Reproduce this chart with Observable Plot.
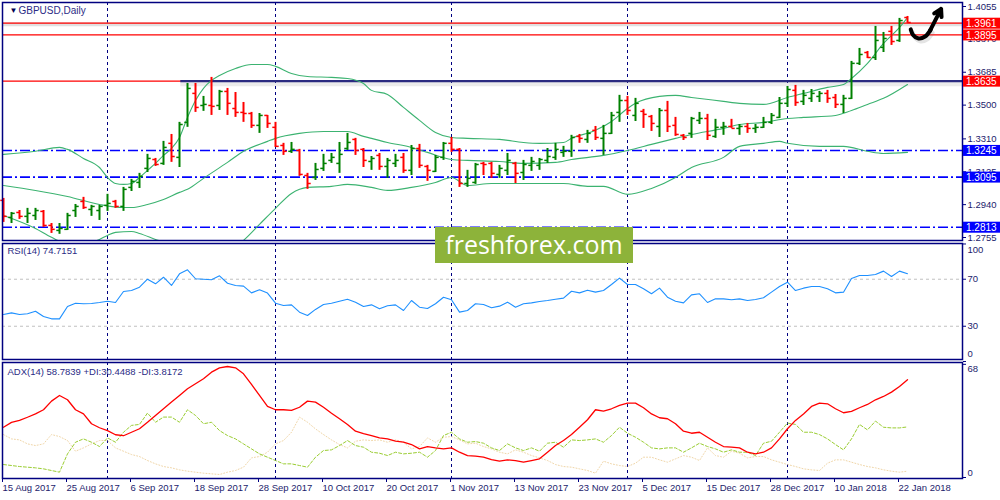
<!DOCTYPE html>
<html><head><meta charset="utf-8">
<script src="https://cdn.jsdelivr.net/npm/d3@7"></script>
<script src="https://cdn.jsdelivr.net/npm/@observablehq/plot@0.6"></script>
<style>
body{margin:0;background:#fff;}
#wrap{position:relative;width:1000px;height:500px;overflow:hidden;background:#fff;}
#wrap svg{position:absolute;left:0;}
#wm{position:absolute;left:435px;top:227px;width:198px;height:36px;background:#8db33a;color:#fff;font-family:"Open Sans",sans-serif;font-size:25px;line-height:34px;text-align:center;z-index:5;}
</style></head><body><div id="wrap"><div id="wm">freshforex.com</div></div>
<script>
// ---------- data ----------
const symbolTitle = "GBPUSD,Daily";
const rsiTitle = "RSI(14) 74.7151";
const adxTitle = "ADX(14) 58.7839 +DI:30.4488 -DI:3.8172";
const dateLabels = ["15 Aug 2017","25 Aug 2017","6 Sep 2017","18 Sep 2017","28 Sep 2017","10 Oct 2017","20 Oct 2017","1 Nov 2017","13 Nov 2017","23 Nov 2017","5 Dec 2017","15 Dec 2017","28 Dec 2017","10 Jan 2018","22 Jan 2018"];
const dateLabelBars = [0,8,16,24,32,40,48,56,64,72,80,88,96,104,112];
const monthStartBars = [13,34,56,78,98];
const priceTicks = [1.4055,1.3870,1.3685,1.3500,1.3310,1.3125,1.2940,1.2755];

const open = [1.2964,1.2868,1.2896,1.2874,1.2879,1.2902,1.2823,1.2795,1.2801,1.2907,1.2958,1.2913,1.2907,1.2936,1.2958,1.2930,1.3037,1.3065,1.3144,1.3194,1.3172,1.3285,1.3206,1.3403,1.3566,1.3498,1.3498,1.3498,1.3577,1.3481,1.3459,1.3453,1.3386,1.3442,1.3375,1.3273,1.3240,1.3245,1.3104,1.3093,1.3144,1.3189,1.3172,1.3256,1.3307,1.3251,1.3183,1.3217,1.3155,1.3172,1.3206,1.3133,1.3256,1.3155,1.3127,1.3206,1.3285,1.3251,1.3059,1.3065,1.3172,1.3172,1.3110,1.3133,1.3172,1.3121,1.3161,1.3161,1.3189,1.3206,1.3234,1.3240,1.3324,1.3307,1.3358,1.3313,1.3341,1.3459,1.3526,1.3442,1.3465,1.3436,1.3380,1.3470,1.3386,1.3330,1.3341,1.3414,1.3425,1.3324,1.3375,1.3380,1.3369,1.3380,1.3369,1.3375,1.3403,1.3431,1.3510,1.3583,1.3521,1.3538,1.3549,1.3566,1.3543,1.3504,1.3538,1.3735,1.3796,1.3768,1.3825,1.3915,1.3864,1.3993];
const high = [1.2975,1.2896,1.2907,1.2919,1.2919,1.2907,1.2834,1.2834,1.2891,1.2941,1.2981,1.2936,1.2936,1.2998,1.2964,1.3037,1.3082,1.3116,1.3223,1.3200,1.3296,1.3335,1.3403,1.3622,1.3622,1.3549,1.3656,1.3583,1.3594,1.3571,1.3515,1.3459,1.3453,1.3442,1.3403,1.3285,1.3290,1.3251,1.3116,1.3172,1.3223,1.3228,1.3290,1.3341,1.3313,1.3256,1.3211,1.3228,1.3200,1.3223,1.3228,1.3273,1.3279,1.3161,1.3217,1.3290,1.3318,1.3256,1.3133,1.3172,1.3178,1.3178,1.3161,1.3228,1.3178,1.3189,1.3206,1.3200,1.3256,1.3285,1.3268,1.3330,1.3335,1.3358,1.3380,1.3386,1.3459,1.3555,1.3549,1.3538,1.3476,1.3442,1.3481,1.3521,1.3431,1.3335,1.3431,1.3459,1.3448,1.3420,1.3403,1.3420,1.3391,1.3397,1.3391,1.3431,1.3453,1.3543,1.3605,1.3611,1.3583,1.3588,1.3577,1.3583,1.3560,1.3555,1.3746,1.3819,1.3802,1.3943,1.3909,1.3943,1.3988,1.3999];
const low = [1.2840,1.2834,1.2857,1.2834,1.2851,1.2812,1.2778,1.2773,1.2795,1.2868,1.2913,1.2874,1.2851,1.2902,1.2919,1.2902,1.3014,1.3031,1.3121,1.3155,1.3161,1.3178,1.3149,1.3375,1.3459,1.3465,1.3442,1.3470,1.3442,1.3431,1.3403,1.3369,1.3341,1.3369,1.3262,1.3217,1.3228,1.3099,1.3026,1.3076,1.3127,1.3172,1.3116,1.3245,1.3217,1.3149,1.3133,1.3133,1.3088,1.3149,1.3116,1.3104,1.3144,1.3071,1.3121,1.3189,1.3234,1.3037,1.3037,1.3054,1.3104,1.3088,1.3088,1.3104,1.3059,1.3076,1.3127,1.3133,1.3172,1.3189,1.3206,1.3206,1.3285,1.3285,1.3301,1.3217,1.3335,1.3403,1.3442,1.3408,1.3369,1.3352,1.3318,1.3346,1.3324,1.3301,1.3313,1.3391,1.3301,1.3313,1.3330,1.3369,1.3330,1.3341,1.3341,1.3369,1.3391,1.3425,1.3487,1.3493,1.3498,1.3515,1.3515,1.3510,1.3481,1.3453,1.3532,1.3723,1.3762,1.3751,1.3796,1.3836,1.3853,1.3960];
const close = [1.2874,1.2891,1.2874,1.2891,1.2907,1.2823,1.2801,1.2806,1.2879,1.2930,1.2924,1.2930,1.2930,1.2947,1.2930,1.3026,1.3071,1.3099,1.3200,1.3166,1.3262,1.3211,1.3391,1.3594,1.3487,1.3504,1.3493,1.3577,1.3510,1.3459,1.3453,1.3386,1.3442,1.3397,1.3268,1.3240,1.3251,1.3110,1.3059,1.3138,1.3172,1.3206,1.3223,1.3290,1.3245,1.3189,1.3200,1.3155,1.3189,1.3189,1.3133,1.3256,1.3161,1.3133,1.3206,1.3285,1.3251,1.3059,1.3088,1.3166,1.3166,1.3116,1.3144,1.3189,1.3116,1.3166,1.3183,1.3194,1.3211,1.3251,1.3240,1.3318,1.3313,1.3341,1.3318,1.3341,1.3442,1.3526,1.3470,1.3510,1.3448,1.3397,1.3470,1.3380,1.3335,1.3318,1.3425,1.3425,1.3330,1.3375,1.3380,1.3369,1.3380,1.3369,1.3375,1.3403,1.3442,1.3510,1.3588,1.3515,1.3555,1.3566,1.3566,1.3538,1.3504,1.3538,1.3735,1.3785,1.3768,1.3864,1.3875,1.3858,1.3976,1.3965];

const bbUpperBars = [0,4,7,8,10,12,13,14,15,16,17,18,19,20,21,22,23,24,25,26,27,29,31,33,34,36,38,41,43,45,46,48,50,52,54,56,58,62,65,67,70,71,74,76,78,79,82,84,86,90,92,95,98,100,103,105,106,108,110,112,113];
const bbUpper = [1.3223,1.3240,1.3262,1.3251,1.3200,1.3149,1.3093,1.3059,1.3054,1.3059,1.3093,1.3133,1.3172,1.3217,1.3256,1.3318,1.3431,1.3526,1.3594,1.3639,1.3667,1.3706,1.3729,1.3729,1.3718,1.3678,1.3661,1.3656,1.3650,1.3622,1.3583,1.3560,1.3487,1.3414,1.3346,1.3318,1.3313,1.3307,1.3290,1.3285,1.3290,1.3313,1.3358,1.3408,1.3481,1.3510,1.3549,1.3555,1.3543,1.3521,1.3510,1.3504,1.3543,1.3566,1.3600,1.3616,1.3650,1.3735,1.3847,1.3937,1.3993];
const bbMiddleBars = [0,4,8,12,15,16,18,20,22,23,25,28,30,33,34,37,40,43,45,46,48,51,53,56,58,62,65,69,71,75,78,81,84,86,90,92,95,98,100,104,106,108,110,113];
const bbMiddle = [1.3048,1.3020,1.2986,1.2941,1.2924,1.2924,1.2941,1.2969,1.3009,1.3026,1.3088,1.3178,1.3240,1.3296,1.3313,1.3341,1.3352,1.3352,1.3324,1.3313,1.3290,1.3262,1.3234,1.3194,1.3189,1.3183,1.3172,1.3178,1.3194,1.3217,1.3245,1.3279,1.3313,1.3335,1.3369,1.3391,1.3403,1.3425,1.3431,1.3442,1.3470,1.3504,1.3538,1.3616];
const bbLowerBars = [0,4,6,8,10,12,13,14,16,17,19,22,25,27,29,30,32,34,36,38,41,43,46,48,51,54,56,58,61,65,70,73,75,78,81,84,86,90,92,95,97,98,102,105,108,110,113];
const bbLower = [1.2879,1.2806,1.2756,1.2722,1.2722,1.2744,1.2767,1.2784,1.2789,1.2778,1.2744,1.2699,1.2581,1.2632,1.2705,1.2739,1.2829,1.2919,1.3003,1.3037,1.3043,1.3054,1.3037,1.3020,1.3037,1.3065,1.3093,1.3048,1.3059,1.3059,1.3059,1.3043,1.3043,1.2998,1.3031,1.3093,1.3149,1.3206,1.3268,1.3285,1.3296,1.3285,1.3268,1.3268,1.3240,1.3228,1.3234];

const resistanceLevels = [1.3961,1.3895,1.3635];
const supportLevels = [1.3245,1.3095,1.2813];
const trendLevel = 1.3635;
const trendStartBar = 22.1;

const rsi = [40.0,41.4,40.0,40.6,42.8,38.3,36.3,36.3,46.8,49.6,49.1,49.4,50.2,51.3,50.2,59.6,60.4,63.2,70.0,66.1,71.7,64.7,74.6,78.0,70.4,70.0,69.5,72.9,66.6,64.7,64.1,58.4,61.0,58.2,49.6,47.7,48.2,42.0,39.1,44.3,48.5,49.6,51.3,53.0,50.5,46.8,48.2,44.8,47.4,48.2,43.4,51.9,46.2,45.1,49.1,54.7,52.5,42.0,43.4,49.1,48.5,45.7,47.1,50.5,46.2,49.1,49.9,51.1,51.9,53.0,53.9,59.8,58.4,60.7,59.0,60.4,65.5,70.9,65.5,65.5,61.9,57.6,62.4,54.7,51.3,49.9,56.7,57.6,50.2,53.3,53.3,52.5,53.3,51.9,52.8,54.2,59.0,63.8,67.5,60.4,62.4,63.8,63.8,61.9,58.4,59.0,70.6,73.2,73.2,74.0,76.9,72.3,76.9,74.7];
const rsiLevels = [70,30];
const rsiTicks = [100,70,30,0];

const adx = [30.2,33.1,34.3,36.2,38.2,40.7,45.9,49.3,46.7,40.7,38.2,32.3,29.9,28.2,25.7,25.1,27.2,29.3,33.2,37.3,41.3,45.3,49.3,53.3,56.3,59.3,63.3,65.9,66.7,65.9,62.3,55.9,49.3,42.7,40.7,40.7,40.3,42.2,45.9,45.3,42.2,38.6,35.3,31.9,27.8,26.3,25.2,23.8,23.2,21.8,21.2,19.8,17.2,18.6,17.8,17.2,17.8,15.2,13.2,12.8,12.2,10.8,9.8,10.6,10.2,9.2,10.2,11.2,15.2,19.2,22.2,25.8,30.2,34.7,40.7,39.9,41.3,43.3,44.7,44.7,41.9,38.2,35.9,35.3,32.3,27.8,26.6,27.2,24.2,21.2,18.6,18.2,17.8,15.2,14.2,15.2,17.8,23.2,29.3,34.3,38.2,42.7,44.7,44.3,41.3,38.9,39.7,41.9,43.9,46.7,48.7,51.3,54.7,58.8];
const plusDI = [7.8,7.2,6.6,6.2,5.8,5.2,4.2,3.2,14.2,21.2,23.2,21.2,18.6,23.8,21.2,27.2,31.3,31.9,38.7,33.2,36.3,36.3,33.2,40.7,37.3,32.3,33.2,28.2,25.2,23.2,20.2,17.2,14.2,12.2,10.2,8.2,8.2,7.2,6.2,12.2,16.2,16.6,19.2,22.2,19.2,18.2,15.2,14.6,13.2,15.2,14.2,14.6,15.2,12.2,16.2,25.2,27.2,23.2,21.2,21.6,20.6,17.8,16.2,20.2,17.8,16.2,17.8,15.8,20.6,21.2,18.2,22.6,22.2,22.6,23.2,21.2,25.2,30.2,26.6,24.2,21.2,17.8,17.2,17.8,17.8,15.2,17.8,20.6,18.6,17.2,15.2,16.6,15.2,15.2,13.2,20.6,21.8,27.2,32.7,31.9,27.2,27.2,25.8,23.2,19.8,16.6,23.2,31.9,28.6,33.9,30.2,29.8,29.8,30.4];
const minusDI = [25.8,23.2,22.6,20.2,19.2,20.2,25.8,24.6,22.2,15.8,17.8,20.2,22.2,22.2,17.8,15.8,13.8,12.6,10.2,8.2,6.6,5.8,4.6,3.8,3.2,2.6,2.2,1.8,3.2,4.2,6.2,11.8,12.6,15.2,20.2,22.2,27.2,36.3,33.2,29.2,25.8,22.6,19.8,17.8,21.8,22.6,22.2,22.6,21.2,22.6,21.2,17.2,18.6,23.8,21.2,24.2,24.6,22.6,20.2,20.6,18.6,17.2,15.2,14.2,16.6,15.2,13.2,11.8,10.2,7.8,6.6,6.2,5.2,4.2,2.6,9.8,8.2,7.2,6.6,8.6,12.2,12.2,10.6,9.2,11.2,13.2,12.2,10.2,17.8,13.2,12.2,15.8,14.6,11.8,12.6,12.6,10.6,9.2,7.8,6.6,5.2,4.6,4.2,8.6,10.6,10.6,9.2,7.8,6.6,5.8,4.6,3.8,3.2,3.8];
const adxTicks = [68,0];

// hand-drawn arrow annotation (bar index, price)
const arrowHook = [[113.4,1.3926],[113.7,1.3895],[114.3,1.3876],[115.2,1.3886],[115.9,1.3925]];
const arrowHead = [[115.8,1.3918],[117.2,1.4042]];

// ---------- styling ----------
const NAVY = "#000080", UP = "#008000", DOWN = "#ff0000", BAND = "#3cb371";
const AXIS_TEXT = "#1c1c6c";
const FONT = "'Liberation Sans', Arial, sans-serif";
const xDomain = [-0.125, 119.875];
const W = 1000, ML = 2, MR = 38;
const base = {width: W, marginLeft: ML, marginRight: MR, style: {fontFamily: FONT, fontSize: "9.5px", background: "transparent", overflow: "visible"}};

const bars = open.map((o, i) => ({i, open: o, high: high[i], low: low[i], close: close[i], col: close[i] >= o ? UP : DOWN}));
const zipXY = (xs, ys) => xs.map((x, k) => ({x, y: ys[k]}));
const idx = arr => arr.map((v, i) => ({i, v}));

// ---------- main price panel ----------
const main = Plot.plot({
  ...base, height: 241, marginTop: 2, marginBottom: 1,
  x: {domain: xDomain, axis: null},
  y: {domain: [1.27382, 1.40775]},
  color: {type: "identity"},
  marks: [
    Plot.ruleX(monthStartBars, {x: d => d, stroke: NAVY, strokeDasharray: "3,3", strokeWidth: 1}),
    Plot.ruleY([resistanceLevels[0]], {y: d => d, stroke: "#cccccc", strokeWidth: 4, strokeOpacity: 0.6, dy: 1}),
    Plot.ruleY(resistanceLevels, {y: d => d, stroke: DOWN, strokeWidth: 1.2}),
    Plot.ruleY(supportLevels, {y: d => d, stroke: "#0000ff", strokeWidth: 1.6, strokeDasharray: "10,3,2,3"}),
    Plot.link([trendLevel], {x1: trendStartBar, x2: xDomain[1], y1: d => d, y2: d => d, stroke: "#999", strokeOpacity: 0.2, strokeWidth: 6, dy: 2}),
    Plot.link([trendLevel], {x1: trendStartBar, x2: xDomain[1], y1: d => d, y2: d => d, stroke: "#2a2a80", strokeWidth: 2.2}),
    Plot.line(zipXY(bbUpperBars, bbUpper), {x: "x", y: "y", stroke: BAND, strokeWidth: 1.1, curve: "monotone-x", clip: true}),
    Plot.line(zipXY(bbMiddleBars, bbMiddle), {x: "x", y: "y", stroke: BAND, strokeWidth: 1.1, curve: "monotone-x", clip: true}),
    Plot.line(zipXY(bbLowerBars, bbLower), {x: "x", y: "y", stroke: BAND, strokeWidth: 1.1, curve: "monotone-x", clip: true}),
    Plot.ruleX(bars, {x: "i", y1: "low", y2: "high", stroke: "col", strokeWidth: 2}),
    Plot.link(bars, {x1: d => d.i - 0.4, x2: "i", y1: "open", y2: "open", stroke: "col", strokeWidth: 1.5}),
    Plot.link(bars, {x1: "i", x2: d => d.i + 0.4, y1: "close", y2: "close", stroke: "col", strokeWidth: 1.5}),
    Plot.line(arrowHook, {x: d => d[0], y: d => d[1], stroke: "#777", strokeOpacity: 0.2, strokeWidth: 4, curve: "catmull-rom", dx: 2, dy: 3}),
    Plot.line(arrowHook, {x: d => d[0], y: d => d[1], stroke: "#000", strokeWidth: 4, curve: "catmull-rom", strokeLinecap: "round"}),
    Plot.arrow([arrowHead], {x1: d => d[0][0], y1: d => d[0][1], x2: d => d[1][0], y2: d => d[1][1], stroke: "#000", strokeWidth: 4, headLength: 11}),
    Plot.frame({stroke: NAVY, strokeWidth: 1.5}),
    Plot.axisY({anchor: "right", ticks: priceTicks, tickFormat: d => d.toFixed(4), tickSize: 3, tickPadding: 2, stroke: NAVY, fill: AXIS_TEXT, label: null}),
    Plot.text(["▼"], {frameAnchor: "top-left", dx: 7, dy: 5, textAnchor: "start", lineAnchor: "top", fill: "#000050", fontSize: 8}),
    Plot.text([symbolTitle], {frameAnchor: "top-left", dx: 16, dy: 4, textAnchor: "start", lineAnchor: "top", fill: "#2b2b85", fontSize: 10})
  ]
});
main.style.top = "0px";
// level price boxes in the right margin, placed through the plot's y scale
{
  const ys = main.scale("y");
  const g = d3.select(main).append("g").attr("font-family", FONT).attr("font-size", "10px").attr("text-anchor", "start");
  const lv = [...resistanceLevels.map(v => ({v, c: "#ff0000"})), ...supportLevels.map(v => ({v, c: "#0000ff"}))];
  for (const l of lv) {
    const y = ys.apply(l.v);
    g.append("rect").attr("x", 963).attr("y", y - 5).attr("width", 37).attr("height", 11).attr("fill", l.c);
    g.append("text").attr("x", 966).attr("y", y + 0.5).attr("dy", "0.36em").attr("fill", "#fff").attr("text-anchor", "start").text(l.v.toFixed(4));
  }
}

// ---------- RSI panel ----------
const rsiPlot = Plot.plot({
  ...base, height: 120, marginTop: 2, marginBottom: 2,
  x: {domain: xDomain, axis: null},
  y: {domain: [1.7, 100.4]},
  marks: [
    Plot.ruleY(rsiLevels, {y: d => d, stroke: "#c0c0c0", strokeDasharray: "3,3"}),
    Plot.ruleX(monthStartBars, {x: d => d, stroke: NAVY, strokeDasharray: "3,3"}),
    Plot.line(idx(rsi), {x: "i", y: "v", stroke: "#1e90ff", strokeWidth: 1.1}),
    Plot.frame({stroke: NAVY, strokeWidth: 1.5}),
    Plot.axisY({anchor: "right", ticks: rsiTicks, tickFormat: d => (d === 70 || d === 30) ? String(d) : "", tickSize: 3, tickPadding: 2, stroke: NAVY, fill: AXIS_TEXT, label: null}),
    Plot.text([100], {y: d => d, text: d => String(d), frameAnchor: "right", dx: 5, dy: 6, textAnchor: "start", fill: AXIS_TEXT}),
    Plot.text([0], {y: d => d, text: d => String(d), frameAnchor: "right", dx: 5, dy: -8, textAnchor: "start", fill: AXIS_TEXT}),
    Plot.text([rsiTitle], {frameAnchor: "top-left", dx: 5, dy: 4, textAnchor: "start", lineAnchor: "top", fill: "#2b2b85", fontSize: 9.5})
  ]
});
rsiPlot.style.top = "241px";

// ---------- ADX panel ----------
const adxPlot = Plot.plot({
  ...base, height: 139, marginTop: 1, marginBottom: 22,
  x: {domain: xDomain},
  y: {domain: [-0.6, 69.1]},
  marks: [
    Plot.ruleX(monthStartBars, {x: d => d, stroke: NAVY, strokeDasharray: "3,3"}),
    Plot.line(idx(minusDI), {x: "i", y: "v", stroke: "#f0d6a8", strokeWidth: 1, strokeDasharray: "1,2"}),
    Plot.line(idx(plusDI), {x: "i", y: "v", stroke: "#9acd32", strokeWidth: 1, strokeDasharray: "3,2"}),
    Plot.line(idx(adx), {x: "i", y: "v", stroke: "#ff0000", strokeWidth: 1.3}),
    Plot.frame({stroke: NAVY, strokeWidth: 1.5}),
    Plot.axisY({anchor: "right", ticks: adxTicks, tickFormat: () => "", tickSize: 3, stroke: NAVY, label: null}),
    Plot.text([68], {y: d => d, text: d => String(d), frameAnchor: "right", dx: 5, dy: 5, textAnchor: "start", fill: AXIS_TEXT}),
    Plot.text([0], {y: d => d, text: d => String(d), frameAnchor: "right", dx: 5, dy: -5, textAnchor: "start", fill: AXIS_TEXT}),
    Plot.axisX({anchor: "bottom", ticks: dateLabelBars, tickFormat: d => dateLabels[dateLabelBars.indexOf(d)], tickSize: 4, tickPadding: 2, textAnchor: "start", dx: -1, stroke: NAVY, fill: AXIS_TEXT, label: null}),
    Plot.text([adxTitle], {frameAnchor: "top-left", dx: 5, dy: 6, textAnchor: "start", lineAnchor: "top", fill: "#2b2b85", fontSize: 9.5})
  ]
});
adxPlot.style.top = "361px";

const wrap = document.getElementById("wrap");
wrap.prepend(adxPlot);
wrap.prepend(rsiPlot);
wrap.prepend(main);
</script></body></html>
